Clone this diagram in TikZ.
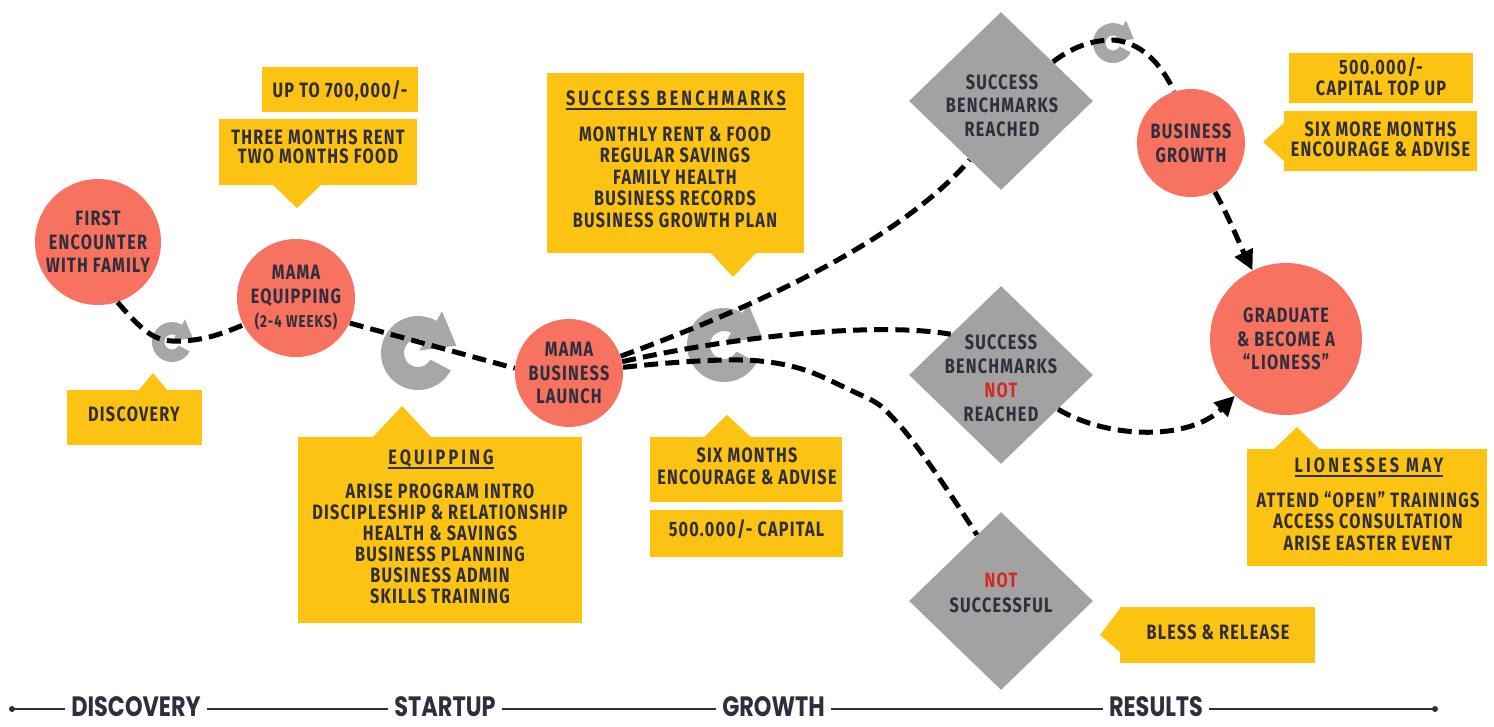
\documentclass[tikz,border=0pt]{standalone}
\usepackage{fontspec}
\usetikzlibrary{shapes.geometric,arrows.meta,calc}
\newfontfamily\dinf{Fira Sans}[FakeStretch=0.78,LetterSpace=6]
\newfontfamily\dinh{Fira Sans}[FakeStretch=0.78,LetterSpace=15]
\newfontfamily\futf{Poppins}[FakeStretch=0.8]
\definecolor{coral}{HTML}{F7725F}
\definecolor{gold}{HTML}{FDC312}
\definecolor{dgray}{HTML}{A2A2A2}
\definecolor{igray}{HTML}{A7A7A7}
\definecolor{ink}{HTML}{2E2E3E}
\definecolor{nred}{HTML}{D22A20}
\newcommand\fs[1]{\dinf\bfseries\fontsize{10.4pt}{#1}\selectfont}
\newcommand\hs{\dinh\bfseries\fontsize{10.4pt}{10.5pt}\selectfont}
\newcommand\hul[1]{\setbox0=\hbox{#1}\rlap{\rule[-2pt]{\wd0}{0.8pt}}\box0}
\newcommand\refreshicon[3]{%
 \begin{scope}[shift={(#1,#2)}, scale=#3]
  \fill[igray] (28:1) arc[start angle=28, end angle=300, radius=1] -- (300:0.38) arc[start angle=300, end angle=28, radius=0.38] -- cycle;
  \fill[igray] (300:0.08) -- (300:1.3) -- ($(300:0.69)+(30:0.8)$) -- cycle;
 \end{scope}}
\tikzset{
 circ/.style={circle, fill=coral, inner sep=0pt, align=center, text=ink},
 dia/.style={diamond, fill=dgray, inner sep=0pt, minimum width=92pt, minimum height=89pt},
 txt/.style={align=center, text=ink, inner sep=0pt},
 ybox/.style={fill=gold, inner sep=0pt},
 flow/.style={line width=2.5pt, dash pattern=on 7pt off 3.6pt, black},
 flowarr/.style={flow, -{Triangle[length=10pt,width=9.5pt]}},
 phase/.style={fill=white, inner xsep=3pt, inner ysep=0pt, anchor=base, text=ink, font=\futf\bfseries\fontsize{14pt}{14pt}\selectfont},
}
\begin{document}
\begin{tikzpicture}[x=0.5pt,y=-0.5pt]
\useasboundingbox[fill=white] (0,0) rectangle (1494,727);

% ---------- yellow callouts ----------
\node[ybox, minimum width=78pt, minimum height=22.5pt] (up700) at (340,89.5) {};
\node[ybox, minimum width=99pt, minimum height=33pt] (rentbox) at (318,152) {};
\fill[gold] (272,184) -- (297,208) -- (322,184) -- cycle;
\node[ybox, minimum width=67.5pt, minimum height=27.5pt] (discbox) at (134.5,417.5) {};
\fill[gold] (138,391) -- (153,373) -- (168,391) -- cycle;
\node[ybox, minimum width=142pt, minimum height=93pt] (eqbox) at (440,530) {};
\fill[gold] (372,438) -- (402,406) -- (432,438) -- cycle;
\node[ybox, minimum width=128.5pt, minimum height=90pt] (sbbox) at (675.5,163) {};
\fill[gold] (710,252) -- (733,277) -- (757,252) -- cycle;
\node[ybox, minimum width=96pt, minimum height=32.5pt] (sixbox) at (746,469.5) {};
\fill[gold] (703,438) -- (727,415) -- (752,438) -- cycle;
\node[ybox, minimum width=96.5pt, minimum height=23.5pt] (capbox) at (746.5,533.5) {};
\node[ybox, minimum width=92pt, minimum height=25pt] (topup) at (1381,78) {};
\node[ybox, minimum width=96.5pt, minimum height=30pt] (sixmore) at (1380.5,141) {};
\fill[gold] (1285,122) -- (1263,142) -- (1285,162) -- cycle;
\node[ybox, minimum width=120pt, minimum height=58.5pt] (lionbox) at (1367,507.5) {};
\fill[gold] (1273,450) -- (1297,427) -- (1320,450) -- cycle;
\node[ybox, minimum width=97.5pt, minimum height=28pt] (blessbox) at (1217.5,635) {};
\fill[gold] (1121,607) -- (1100,635) -- (1121,653) -- cycle;

% ---------- callout texts ----------
\node[txt, font=\fs{10.5pt}] (t700) at (340,91) {UP TO 700,000/-};
\node[txt, font=\fs{9.5pt}] (trent) at (318,146.5) {THREE MONTHS RENT\\TWO MONTHS FOOD};
\node[txt, font=\fs{10.5pt}] (tdisc) at (134,414.5) {DISCOVERY};
\node[txt, font=\hs] (teqh) at (441,459.5) {\hul{EQUIPPING}};
\node[txt, font=\fs{10.5pt}] (teq) at (440,543.5) {ARISE PROGRAM INTRO\\DISCIPLESHIP \& RELATIONSHIP\\HEALTH \& SAVINGS\\BUSINESS PLANNING\\BUSINESS ADMIN\\SKILLS TRAINING};
\node[txt, font=\hs] (tsbh) at (676,100.5) {\hul{SUCCESS BENCHMARKS}};
\node[txt, font=\fs{10.7pt}] (tsb) at (675,177) {MONTHLY RENT \& FOOD\\REGULAR SAVINGS\\FAMILY HEALTH\\BUSINESS RECORDS\\BUSINESS GROWTH PLAN};
\node[txt, font=\fs{11pt}] (tsix) at (747,466.5) {SIX MONTHS\\ENCOURAGE \& ADVISE};
\node[txt, font=\fs{10.5pt}] (tcap) at (746.5,529.5) {500.000/- CAPITAL};
\node[txt, font=\fs{10.5pt}] (ttop) at (1381,76.5) {500.000/-\\CAPITAL TOP UP};
\node[txt, font=\fs{10.25pt}] (tmore) at (1380.5,139.5) {SIX MORE MONTHS\\ENCOURAGE \& ADVISE};
\node[txt, font=\hs] (tlionh) at (1369,467.5) {\hul{LIONESSES MAY}};
\node[txt, font=\fs{10.7pt}] (tlion) at (1368,521) {ATTEND “OPEN” TRAININGS\\ACCESS CONSULTATION\\ARISE EASTER EVENT};
\node[txt, font=\fs{10.5pt}] (tbless) at (1218,632.5) {BLESS \& RELEASE};

% ---------- circles ----------
\node[circ, minimum size=63pt, font=\fs{11.75pt}] (first) at (98,242) {FIRST\\ENCOUNTER\\WITH FAMILY};
\node[circ, minimum size=59pt, font=\fs{12pt}] (equip) at (296,298) {MAMA\\EQUIPPING\\{\fontsize{8.6pt}{10pt}\selectfont (2-4 WEEKS)}};
\node[circ, minimum size=54pt, font=\fs{11.75pt}] (launch) at (569,373) {MAMA\\BUSINESS\\LAUNCH};
\node[circ, minimum size=54pt, font=\fs{12pt}] (growth) at (1191,143) {BUSINESS\\GROWTH};
\node[circ, minimum size=76pt, font=\fs{11.75pt}] (grad) at (1286,339) {GRADUATE\\\& BECOME A\\“LIONESS”};

% ---------- diamonds ----------
\node[dia] (reached) at (1001,101) {};
\node[dia] (notr) at (1001,375) {};
\node[dia] (nsucc) at (1001,601) {};
\node[txt, font=\fs{11.75pt}] (treached) at (1002,105.5) {SUCCESS\\BENCHMARKS\\REACHED};
\node[txt, font=\fs{12pt}] (tnotr) at (1001,378) {SUCCESS\\BENCHMARKS\\\textcolor{nred}{NOT}\\REACHED};
\node[txt, font=\fs{12.5pt}] (tnsucc) at (1001,593) {\textcolor{nred}{NOT}\\SUCCESSFUL};

% ---------- refresh icons ----------
\refreshicon{172}{342}{20}
\refreshicon{418}{353}{37}
\refreshicon{724}{345}{37}
\refreshicon{1113}{43}{20}
\coordinate (ic1) at (172,341);
\coordinate (ic4) at (1113,40);

% ---------- connectors ----------
\draw[flow] (first.-72) .. controls (140,328) and (152,340) .. (ic1) .. controls (200,342) and (222,334) .. (equip.207);
\draw[flow] (equip.-25) -- (launch.175);
\draw[flow] (launch.18) .. controls (760,305) and (900,240) .. (reached.-118);
\draw[flow] (launch.12) .. controls (740,335) and (880,322) .. (notr.141);
\draw[flow] plot[smooth, tension=0.7] coordinates {(launch.6) (760,361) (850,390) (902,428) (nsucc.110)};
\draw[flow] (reached.37) .. controls (1075,45) and (1095,40) .. (ic4) .. controls (1140,42) and (1160,62) .. (growth.108);
\draw[flowarr] (growth.-64) .. controls (1228,215) and (1240,245) .. (grad.116);
\draw[flowarr] (notr.-31) .. controls (1110,440) and (1190,440) .. (grad.228);

% ---------- timeline ----------
\coordinate (tl0) at (12,709);
\coordinate (tl1) at (1435,709);
\draw[line width=0.75pt, ink] (tl0) -- (tl1);
\fill[ink] (tl0) circle[radius=3];
\fill[ink] (tl1) circle[radius=3];
\node[phase] (ph1) at (136,716) {DISCOVERY};
\node[phase] (ph2) at (445,716) {STARTUP};
\node[phase] (ph3) at (773.5,716) {GROWTH};
\node[phase] (ph4) at (1156,716) {RESULTS};
\end{tikzpicture}
\end{document}
